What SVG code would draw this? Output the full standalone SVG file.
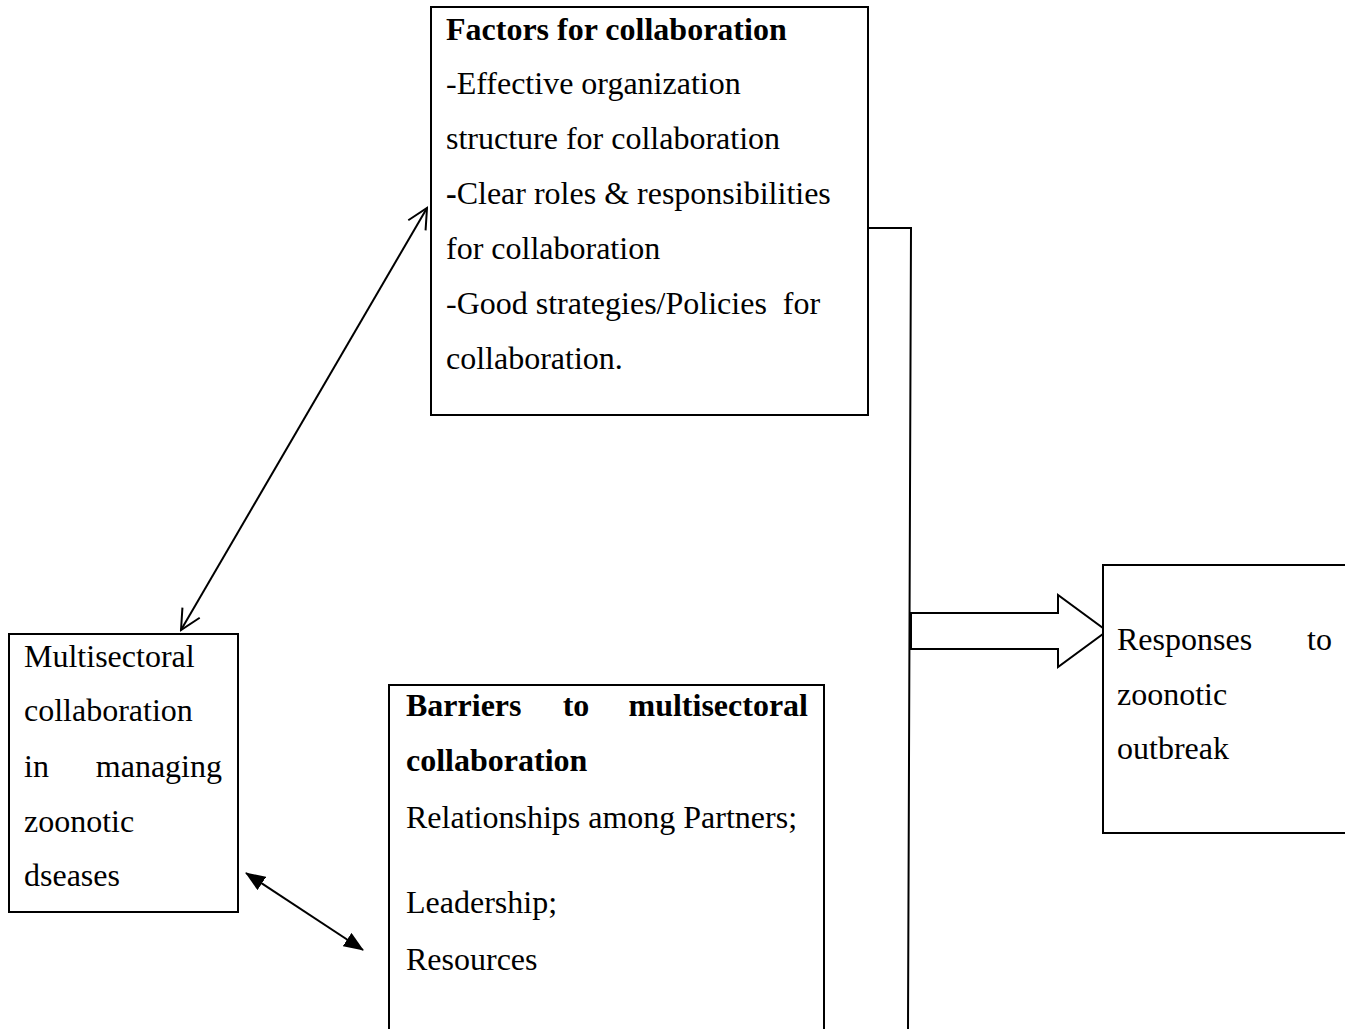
<svg xmlns="http://www.w3.org/2000/svg" width="1345" height="1029" viewBox="0 0 1345 1029">
<defs>
<style>
.box{fill:#fff;stroke:#000;stroke-width:2}
.t{font-family:"Liberation Serif","Times New Roman",serif;font-size:32px;fill:#000}
.b{font-weight:bold}
.ln{fill:none;stroke:#000;stroke-width:2}
</style>
<marker id="open" viewBox="0 0 24 24" refX="22" refY="12" markerWidth="24" markerHeight="24" markerUnits="userSpaceOnUse" orient="auto-start-reverse">
<path d="M2,2 L22,12 L2,22" fill="none" stroke="#000" stroke-width="2"/>
</marker>
<marker id="fill" viewBox="0 0 20 16" refX="19" refY="8" markerWidth="20" markerHeight="16" markerUnits="userSpaceOnUse" orient="auto-start-reverse">
<path d="M0,0 L20,8 L0,16 Z" fill="#000"/>
</marker>
</defs>
<rect width="1345" height="1029" fill="#fff"/>
<g id="connectors">
<line class="ln" x1="181" y1="630" x2="427" y2="208" marker-start="url(#open)" marker-end="url(#open)"/>
<line class="ln" x1="246" y1="873" x2="363" y2="950" marker-start="url(#fill)" marker-end="url(#fill)"/>
<polyline class="ln" points="868,228 911,228 908,1029"/>
<path d="M911,613 L1058,613 L1058,595 L1107,631 L1058,667 L1058,649 L911,649 Z" fill="#fff" stroke="#000" stroke-width="2"/>
</g>
<g id="factors">
<rect class="box" x="431" y="7" width="437" height="408"/>
<text class="t b" x="446" y="40">Factors for collaboration</text>
<text class="t" x="446" y="94">-Effective organization</text>
<text class="t" x="446" y="149">structure for collaboration</text>
<text class="t" x="446" y="204"><tspan class="b">-</tspan>Clear roles &amp; responsibilities</text>
<text class="t" x="446" y="259">for collaboration</text>
<text class="t" x="446" y="314" xml:space="preserve">-Good strategies/Policies  for</text>
<text class="t" x="446" y="369">collaboration.</text>
</g>
<g id="multisectoral">
<rect class="box" x="9" y="634" width="229" height="278"/>
<text class="t" x="24" y="667">Multisectoral</text>
<text class="t" x="24" y="721">collaboration</text>
<text class="t" x="24" y="777">in</text>
<text class="t" x="222" y="777" text-anchor="end">managing</text>
<text class="t" x="24" y="832">zoonotic</text>
<text class="t" x="24" y="886">dseases</text>
</g>
<g id="barriers">
<rect class="box" x="389" y="685" width="435" height="360"/>
<text class="t b" x="406" y="716">Barriers</text>
<text class="t b" x="576" y="716" text-anchor="middle">to</text>
<text class="t b" x="808" y="716" text-anchor="end">multisectoral</text>
<text class="t b" x="406" y="771">collaboration</text>
<text class="t" x="406" y="828">Relationships among Partners;</text>
<text class="t" x="406" y="913">Leadership;</text>
<text class="t" x="406" y="970">Resources</text>
</g>
<g id="responses">
<rect class="box" x="1103" y="565" width="260" height="268"/>
<text class="t" x="1117" y="650">Responses</text>
<text class="t" x="1332" y="650" text-anchor="end">to</text>
<text class="t" x="1117" y="705">zoonotic</text>
<text class="t" x="1117" y="759">outbreak</text>
</g>
</svg>
